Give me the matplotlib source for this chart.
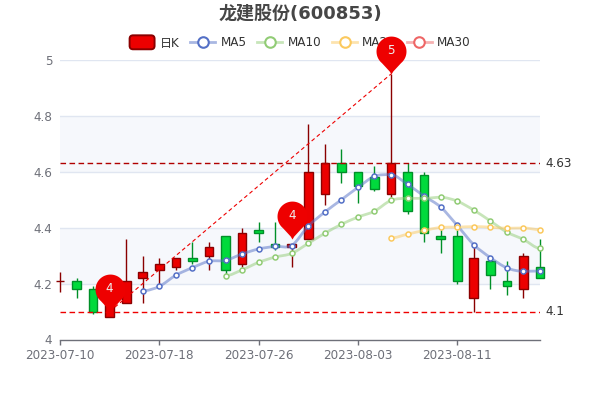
import numpy as np
import matplotlib
matplotlib.use('Agg')
import matplotlib.pyplot as plt
from matplotlib.colors import to_rgba
from matplotlib.legend_handler import HandlerBase
from matplotlib.lines import Line2D
from matplotlib.patches import FancyBboxPatch, PathPatch, Patch, Rectangle
from matplotlib.path import Path

plt.rcParams['font.family'] = ['DejaVu Sans', 'Noto Sans CJK SC']

dates = ['2023-07-10', '2023-07-11', '2023-07-12', '2023-07-13', '2023-07-14',
         '2023-07-17', '2023-07-18', '2023-07-19', '2023-07-20', '2023-07-21',
         '2023-07-24', '2023-07-25', '2023-07-26', '2023-07-27', '2023-07-28',
         '2023-07-31', '2023-08-01', '2023-08-02', '2023-08-03', '2023-08-04',
         '2023-08-07', '2023-08-08', '2023-08-09', '2023-08-10', '2023-08-11',
         '2023-08-14', '2023-08-15', '2023-08-16', '2023-08-17', '2023-08-18']

opens = [4.21, 4.21, 4.18, 4.08, 4.13, 4.22, 4.25, 4.26, 4.29, 4.30,
         4.37, 4.27, 4.39, 4.34, 4.33, 4.36, 4.52, 4.63, 4.60, 4.58,
         4.52, 4.60, 4.59, 4.37, 4.37, 4.15, 4.28, 4.21, 4.18, 4.26]
closes = [4.21, 4.18, 4.10, 4.14, 4.21, 4.24, 4.27, 4.29, 4.28, 4.33,
          4.25, 4.38, 4.38, 4.33, 4.34, 4.60, 4.63, 4.60, 4.55, 4.54,
          4.63, 4.46, 4.38, 4.36, 4.21, 4.29, 4.23, 4.19, 4.30, 4.22]
highs = [4.24, 4.22, 4.19, 4.18, 4.36, 4.30, 4.29, 4.29, 4.35, 4.35,
         4.37, 4.40, 4.42, 4.42, 4.34, 4.77, 4.70, 4.68, 4.60, 4.62,
         4.95, 4.63, 4.60, 4.39, 4.39, 4.33, 4.30, 4.28, 4.31, 4.36]
lows = [4.17, 4.15, 4.09, 4.08, 4.13, 4.13, 4.20, 4.25, 4.27, 4.25,
        4.23, 4.26, 4.35, 4.32, 4.26, 4.36, 4.48, 4.56, 4.49, 4.53,
        4.51, 4.45, 4.35, 4.31, 4.20, 4.10, 4.18, 4.16, 4.15, 4.22]

ma5 = [4.174, 4.19, 4.23, 4.257, 4.28, 4.283, 4.306, 4.324, 4.333, 4.336,
       4.406, 4.456, 4.50, 4.544, 4.584, 4.59, 4.555, 4.513, 4.474, 4.408,
       4.339, 4.293, 4.256, 4.244, 4.245]
ma10 = [4.228, 4.249, 4.276, 4.295, 4.308, 4.344, 4.38, 4.412, 4.438, 4.459,
        4.498, 4.505, 4.505, 4.509, 4.495, 4.463, 4.424, 4.384, 4.358, 4.326]
ma20 = [4.363, 4.377, 4.39, 4.401, 4.402, 4.404, 4.402, 4.398, 4.399, 4.393]

ma_names = ['MA5', 'MA10', 'MA20', 'MA30']
ma_colors = ['#5470C6', '#91CC75', '#FBC95E', '#EE6666']
ma_series = [ma5, ma10, ma20]

y_ticks = [4, 4.2, 4.4, 4.6, 4.8, 5]
y_labels = ['4', '4.2', '4.4', '4.6', '4.8', '5']

pin_idx = [3, 14, 20]
pin_val = [4.10, 4.36, 4.95]
pin_txt = ['4', '4', '5']

hlines = [4.63, 4.1]
hline_colors = ['#B00000', '#EE0000']
hline_labels = ['4.63', '4.1']

UP, UP_EDGE = '#EC0000', '#8A0000'
DOWN, DOWN_EDGE = '#00DA3C', '#008F28'


def smooth_path(x, y, k=0.3):
    # bezier through the points, flat tangents at turning points
    verts = [(x[0], y[0])]
    codes = [Path.MOVETO]
    n = len(x)
    slope = []
    for i in range(n):
        if i == 0 or i == n - 1:
            slope.append(0)
        elif (y[i] - y[i - 1]) * (y[i + 1] - y[i]) <= 0:
            slope.append(0)
        else:
            slope.append((y[i + 1] - y[i - 1]) / 2)
    for i in range(n - 1):
        verts.append((x[i] + k, y[i] + slope[i] * k))
        verts.append((x[i + 1] - k, y[i + 1] - slope[i + 1] * k))
        verts.append((x[i + 1], y[i + 1]))
        codes += [Path.CURVE4, Path.CURVE4, Path.CURVE4]
    return Path(verts, codes)


def pin_marker():
    # tip at the origin, round head above it
    t = np.radians(np.linspace(-50, 230, 60))
    hx = np.cos(t)
    hy = 1.53 + np.sin(t)
    v = [(0, 0), (0.12, 0.2)] + list(zip(hx, hy)) + [(-0.12, 0.2), (0, 0)]
    return Path(v)


class CandleHandler(HandlerBase):
    def create_artists(self, legend, orig, x0, y0, w, h, fontsize, trans):
        box = FancyBboxPatch((x0, y0 - 2), w, h + 4,
                             boxstyle='round,pad=0,rounding_size=2.5',
                             fc=UP, ec=UP_EDGE, lw=1.4, transform=trans)
        return [box]


fig = plt.figure(figsize=(6, 4), dpi=100)
ax = fig.add_axes([60 / 600, 1 - 339.5 / 400, 480 / 600, 279.5 / 400])

xs = np.arange(len(dates))

# alternating bands and grid
for i in range(len(y_ticks) - 1):
    col = '#F6F8FC' if i in (1, 3) else '#FFFFFF'
    ax.axhspan(y_ticks[i], y_ticks[i + 1], color=col, lw=0, zorder=0)
for v in y_ticks[1:]:
    ax.axhline(v, color='#E0E6F1', lw=1, zorder=1)

# candles
for i in xs:
    up = closes[i] >= opens[i]
    fc, ec = (UP, UP_EDGE) if up else (DOWN, DOWN_EDGE)
    ax.plot([i, i], [lows[i], highs[i]], color=ec, lw=1, zorder=3,
            solid_capstyle='butt', clip_on=False)
    bot = min(opens[i], closes[i])
    ax.add_patch(Rectangle((i - 0.26, bot), 0.52, abs(closes[i] - opens[i]),
                           fc=fc, ec=ec, lw=1, zorder=3, clip_on=False))

# moving averages
for vals, col in zip(ma_series, ma_colors):
    x = xs[-len(vals):]
    ax.add_patch(PathPatch(smooth_path(x, vals), fc='none', ec=col, lw=2,
                           alpha=0.5, zorder=4))
    ax.plot(x, vals, ls='none', marker='o', ms=3.6, mfc='white', mec=col,
            mew=1.1, zorder=5, clip_on=False)

# price marklines
for v, col, lab in zip(hlines, hline_colors, hline_labels):
    ax.axhline(v, color=col, lw=1, ls=(0, (4, 2.5)), zorder=6)
    ax.annotate(lab, (1, v), xycoords=('axes fraction', 'data'), xytext=(3.6, 0),
                textcoords='offset points', va='center', ha='left',
                fontsize=8.64, color='#333333', annotation_clip=False)

# dashed line between the two extreme pins
ax.plot([pin_idx[0], pin_idx[2]], [pin_val[0], pin_val[2]], color='#EE0000',
        lw=0.8, ls=(0, (3.5, 2.6)), zorder=6)

ax.set_xlim(0, len(dates) - 1)
ax.set_ylim(4, 5)
for s in ['top', 'right', 'left']:
    ax.spines[s].set_visible(False)
ax.spines['bottom'].set_color('#6E7079')
ax.spines['bottom'].set_linewidth(1)
ax.set_yticks(y_ticks)
ax.set_yticklabels(y_labels)
ax.tick_params(axis='y', length=0, pad=5.5, labelsize=8.64, labelcolor='#6E7079')
ax.set_xticks(xs[::6])
ax.set_xticklabels(dates[::6])
ax.tick_params(axis='x', length=3.6, width=1, color='#6E7079', pad=3,
               labelsize=8.64, labelcolor='#6E7079')
ax.patch.set_visible(False)

# pins sit above everything, the legend too
marker = pin_marker()
for i, v, t in zip(pin_idx, pin_val, pin_txt):
    ax.plot([i], [v], marker=marker, ms=54.6, mfc='#EE0000', mec='none', ls='none',
            zorder=20, clip_on=False)
    ax.annotate(t, (i, v), xytext=(0, 16.6), textcoords='offset points',
                ha='center', va='center', color='#EEEEEE', fontsize=8.64,
                zorder=21, annotation_clip=False)

fig.text(0.5, 1 - 14 / 400, '龙建股份(600853)', ha='center', va='center',
         fontsize=13, fontweight='bold', color='#464646')

handles = [Patch(label='日K')]
for name, col in zip(ma_names, ma_colors):
    handles.append(Line2D([], [], color=to_rgba(col, 0.5), lw=2, marker='o', ms=7.6,
                          mfc='white', mec=col, mew=1.5, label=name))
leg = ax.legend(handles=handles, handler_map={Patch: CandleHandler()}, ncol=5,
                loc='center', bbox_to_anchor=(300 / 600, 1 - 43 / 400),
                bbox_transform=fig.transFigure, frameon=False, fontsize=8.64,
                handlelength=2.08, handletextpad=0.42, columnspacing=0.92,
                labelcolor='#333333', borderpad=0, borderaxespad=0)
leg.set_zorder(10)

fig.savefig('out.png', dpi=100)
